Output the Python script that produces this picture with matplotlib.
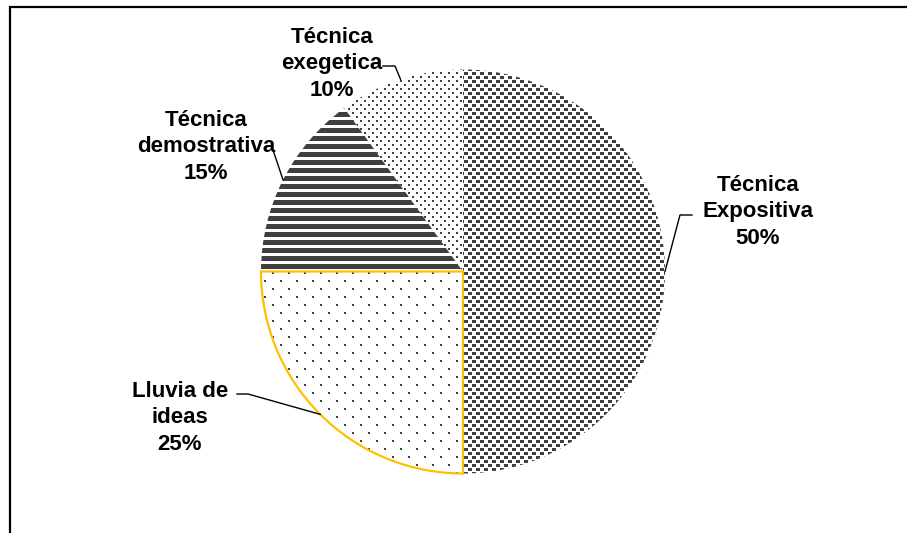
import numpy as np
import matplotlib
matplotlib.use('Agg')
import matplotlib.pyplot as plt
from matplotlib.patches import Wedge, Rectangle

# data
labels = ['Técnica\nExpositiva', 'Lluvia de\nideas', 'Técnica\ndemostrativa', 'Técnica\nexegetica']
values = [50, 25, 15, 10]
patterns = ['checker', 'sparse', 'stripes', 'dots']

W, H = 907, 533
DARK = (0.25, 0.25, 0.25, 1.0)

# label placement in image pixels: (text x, last-line baseline y, elbow pts)
LABEL_POS = {
    'Técnica\nExpositiva': (758, 244, [(680, 215), (692, 215)]),
    'Lluvia de\nideas': (180, 450, [(248, 394), (237, 394)]),
    'Técnica\ndemostrativa': (206, 179, [(273, 150)]),
    'Técnica\nexegetica': (332, 96, [(395, 66), (383, 66)]),
}


def make_texture(kind):
    yy, xx = np.mgrid[0:H, 0:W]
    if kind == 'checker':
        m = ((xx % 8 < 4) & (yy % 8 < 3)) | (((xx + 4) % 8 < 4) & ((yy + 4) % 8 < 3))
    elif kind == 'dots':
        m = ((xx % 8 < 2) & (yy % 8 < 2)) | (((xx + 4) % 8 < 2) & ((yy + 4) % 8 < 2))
    elif kind == 'sparse':
        m = ((xx % 16 < 2) & (yy % 16 < 2)) | (((xx + 8) % 16 < 2) & ((yy + 8) % 16 < 2))
    else:
        m = (yy % 8 < 5)
    img = np.zeros((H, W, 4))
    img[m] = DARK
    return img


def iy(y):
    # image row -> data y
    return H - y


fig = plt.figure(figsize=(W / 100, H / 100), dpi=100)
ax = fig.add_axes([0, 0, 1, 1])

cx, cy, r = 463, iy(271.5), 202
wedges, _ = ax.pie(values, startangle=90, counterclock=False, radius=r, center=(cx, cy),
                   colors=['white'] * 4, wedgeprops={'linewidth': 0, 'edgecolor': 'none'})

for w, kind in zip(wedges, patterns):
    im = ax.imshow(make_texture(kind), extent=[0, W, 0, H], origin='upper',
                   interpolation='nearest', zorder=2)
    im.set_clip_path(w)

# yellow outline of "Lluvia de ideas"
lw_ = wedges[1]
ax.add_patch(Wedge(lw_.center, lw_.r, lw_.theta1, lw_.theta2, fill=False,
                   edgecolor='#FFC000', linewidth=1.6, zorder=3))

# labels + leader lines
for w, lab, v in zip(wedges, labels, values):
    mid = np.deg2rad((w.theta1 + w.theta2) / 2)
    px, py = cx + r * np.cos(mid), cy + r * np.sin(mid)
    tx, ty, elbow = LABEL_POS[lab]
    xs = [px] + [e[0] for e in elbow]
    ys = [py] + [iy(e[1]) for e in elbow]
    ax.plot(xs, ys, color='black', linewidth=1.0, zorder=4)
    ax.text(tx, iy(ty), f'{lab}\n{v}%', ha='center', va='baseline', multialignment='center',
            fontsize=16, fontweight='bold', family=['Liberation Sans', 'DejaVu Sans'],
            linespacing=1.35, zorder=5)

# chart frame (runs off right and bottom edges)
ax.add_patch(Rectangle((10, -20), 1000, iy(7) + 20, fill=False, edgecolor='black',
                       linewidth=1.6, zorder=6, clip_on=False))

ax.set_xlim(0, W)
ax.set_ylim(0, H)
ax.set_aspect('auto')
ax.axis('off')

fig.savefig('out.png', dpi=100, facecolor='white')
